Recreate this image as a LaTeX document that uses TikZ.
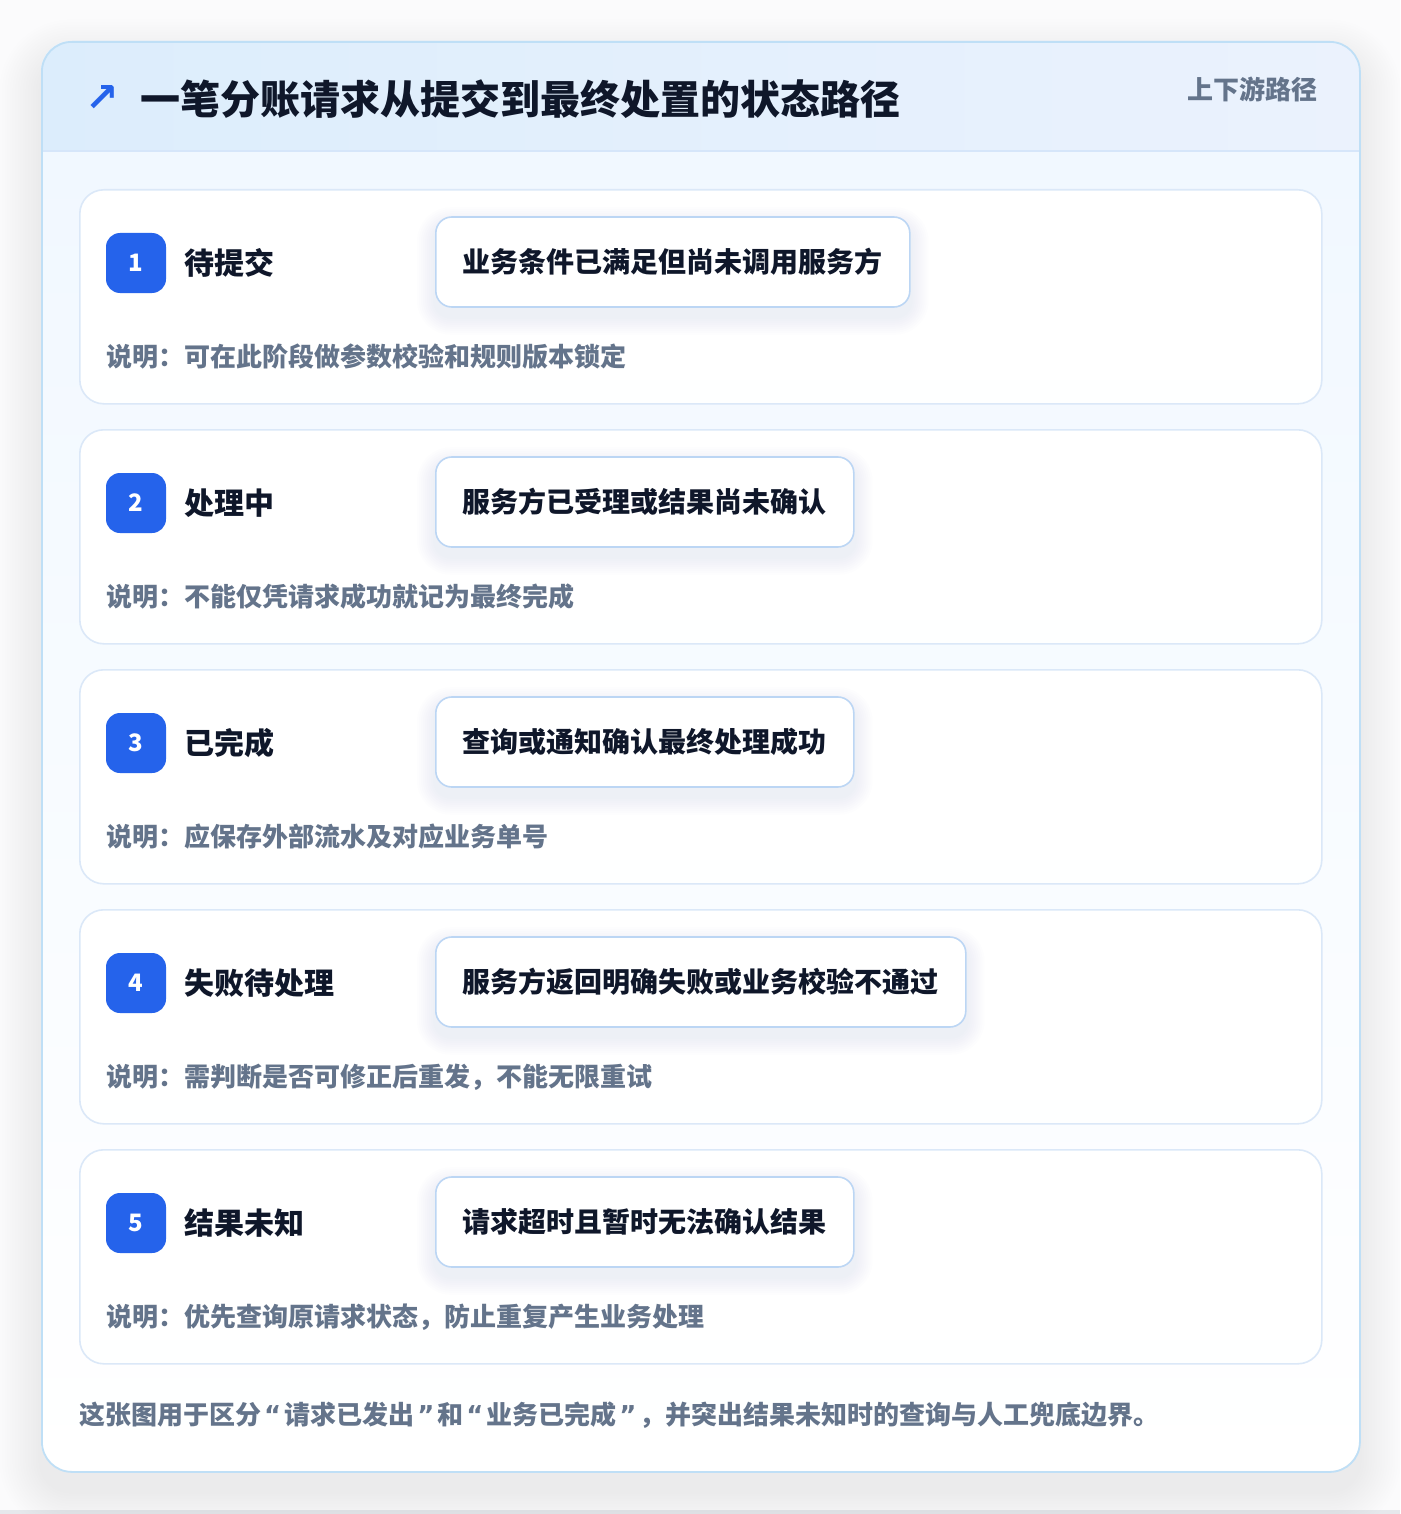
\documentclass[tikz,border=0pt]{standalone}
\usepackage{fontspec}
\setmainfont{Noto Sans CJK SC}
\newfontfamily\symfont{DejaVu Sans}
\definecolor{pagebg}{HTML}{FBFBFC}
\definecolor{pageedge}{HTML}{E6E8EC}
\definecolor{brandblue}{HTML}{2563EB}
\definecolor{inkdark}{HTML}{0F172A}
\definecolor{inkgrey}{HTML}{64748B}
\definecolor{outerline}{HTML}{BFDFF6}
\definecolor{cardline}{HTML}{DBE8F8}
\definecolor{pillline}{HTML}{BCD6F4}
\definecolor{headleft}{HTML}{DCEDFC}
\definecolor{headright}{HTML}{EBF2FD}
\definecolor{headrule}{HTML}{D6E6FA}
\definecolor{bodytop}{HTML}{F1F8FF}
\definecolor{shadowcol}{HTML}{64748B}
\definecolor{pageshadow}{HTML}{55585E}
\pgfdeclarelayer{cardlayer}
\pgfdeclarelayer{shadowlayer}
\pgfsetlayers{cardlayer,shadowlayer,main}
\tikzset{
  cardbox/.style={draw=cardline, line width=1.6pt, rounded corners=24pt, top color=white, bottom color=white!96!bodytop},
  badgebox/.style={fill=brandblue, rounded corners=14pt, minimum width=60pt, minimum height=60pt, inner sep=0pt, text=white, font=\fontsize{24}{26}\selectfont\bfseries},
  labeltext/.style={anchor=west, inner sep=0pt, text=inkdark, font=\fontsize{30}{34}\selectfont\bfseries},
  pillbox/.style={anchor=west, draw=pillline, line width=1.6pt, fill=white, rounded corners=16pt, minimum height=90pt, inner xsep=27pt, inner ysep=0pt, text=inkdark, font=\fontsize{28}{32}\selectfont\bfseries},
  notetext/.style={anchor=west, inner sep=0pt, text=inkgrey, font=\fontsize{26}{30}\selectfont\bfseries},
  softlayer/.style={fill=shadowcol, fill opacity=#1},
  pagelayer/.style={fill=pageshadow, fill opacity=#1}
}
\newcommand{\myopenq}{\kern3pt{\symfont “}\kern3pt}
\newcommand{\mycloseq}{\kern3pt{\symfont ”}\kern3pt}
\begin{document}
\begin{tikzpicture}[x=1pt,y=-1pt]
\useasboundingbox (0,0) rectangle (1400,1514);
\begin{pgfonlayer}{cardlayer}
\fill[pagebg] (0,0) rectangle (1400,1514);
\fill[pageedge] (0,1510) rectangle (1400,1514);
% outer card soft shadow
\foreach \k in {1,...,16}{
  \pgfmathsetmacro{\e}{2.6*\k}
  \pgfmathsetmacro{\r}{30+2.6*\k}
  \fill[pagelayer=0.0055, rounded corners=\r pt] (41-\e,41-\e+20) rectangle (1359+\e,1471+\e+20);
}
\fill[white, rounded corners=30pt] (41,41) rectangle (1359,1471);
\begin{scope}
  \clip[rounded corners=30pt] (41,41) rectangle (1359,1471);
  \shade[top color=bodytop, bottom color=white] (41,151) rectangle (1359,1471);
  \shade[left color=headleft, right color=headright] (41,41) rectangle (1359,151);
  \draw[headrule, line width=1.6pt] (41,151) -- (1359,151);
\end{scope}
\end{pgfonlayer}
\node[draw=outerline, line width=1.8pt, rounded corners=30pt, minimum width=1318pt, minimum height=1430pt, inner sep=0pt, anchor=north west] (outer) at (41,41) {};
% header
\node[anchor=center, inner sep=0pt, text=brandblue, font=\symfont\fontsize{40}{42}\selectfont\bfseries] (icon) at (102,99) {↗};
\node[anchor=west, inner sep=0pt, text=inkdark, font=\fontsize{40}{44}\selectfont\bfseries] (title) at (140,99) {一笔分账请求从提交到最终处置的状态路径};
\node[anchor=east, inner sep=0pt, text=inkgrey, font=\fontsize{26}{30}\selectfont\bfseries] (tag) at (1318,89) {上下游路径};
% cards
\foreach \i/\lab/\pill/\note in {
  1/待提交/业务条件已满足但尚未调用服务方/可在此阶段做参数校验和规则版本锁定,
  2/处理中/服务方已受理或结果尚未确认/不能仅凭请求成功就记为最终完成,
  3/已完成/查询或通知确认最终处理成功/应保存外部流水及对应业务单号,
  4/失败待处理/服务方返回明确失败或业务校验不通过/需判断是否可修正后重发，不能无限重试,
  5/结果未知/请求超时且暂时无法确认结果/优先查询原请求状态，防止重复产生业务处理}{
  \pgfmathsetmacro{\top}{189+240*(\i-1)}
  \begin{pgfonlayer}{cardlayer}
  \node[cardbox, anchor=north west, minimum width=1242pt, minimum height=214pt, inner sep=0pt] (card\i) at (79,\top) {};
  \end{pgfonlayer}
  \node[badgebox] (badge\i) at (136,\top+74) {\i};
  \node[labeltext] (label\i) at (184,\top+74) {\lab};
  \node[pillbox] (pill\i) at (435,\top+73) {\pill};
  \begin{pgfonlayer}{shadowlayer}
  \foreach \k in {1,...,9}{
    \pgfmathsetmacro{\e}{2*\k}
    \pgfmathsetmacro{\r}{16+2*\k}
    \fill[softlayer=0.008, rounded corners=\r pt] ([xshift=-\e pt, yshift=-\e pt-9pt]pill\i.south west) rectangle ([xshift=\e pt, yshift=\e pt-9pt]pill\i.north east);
  }
  \end{pgfonlayer}
  \node[notetext] (note\i) at (106,\top+168) {说明：\note};
}
% footer
\node[anchor=west, inner sep=0pt, text=inkgrey, font=\fontsize{26}{30}\selectfont\bfseries] (footer) at (79,1415) {这张图用于区分\myopenq 请求已发出\mycloseq 和\myopenq 业务已完成\mycloseq ，并突出结果未知时的查询与人工兜底边界。};
\end{tikzpicture}
\end{document}
